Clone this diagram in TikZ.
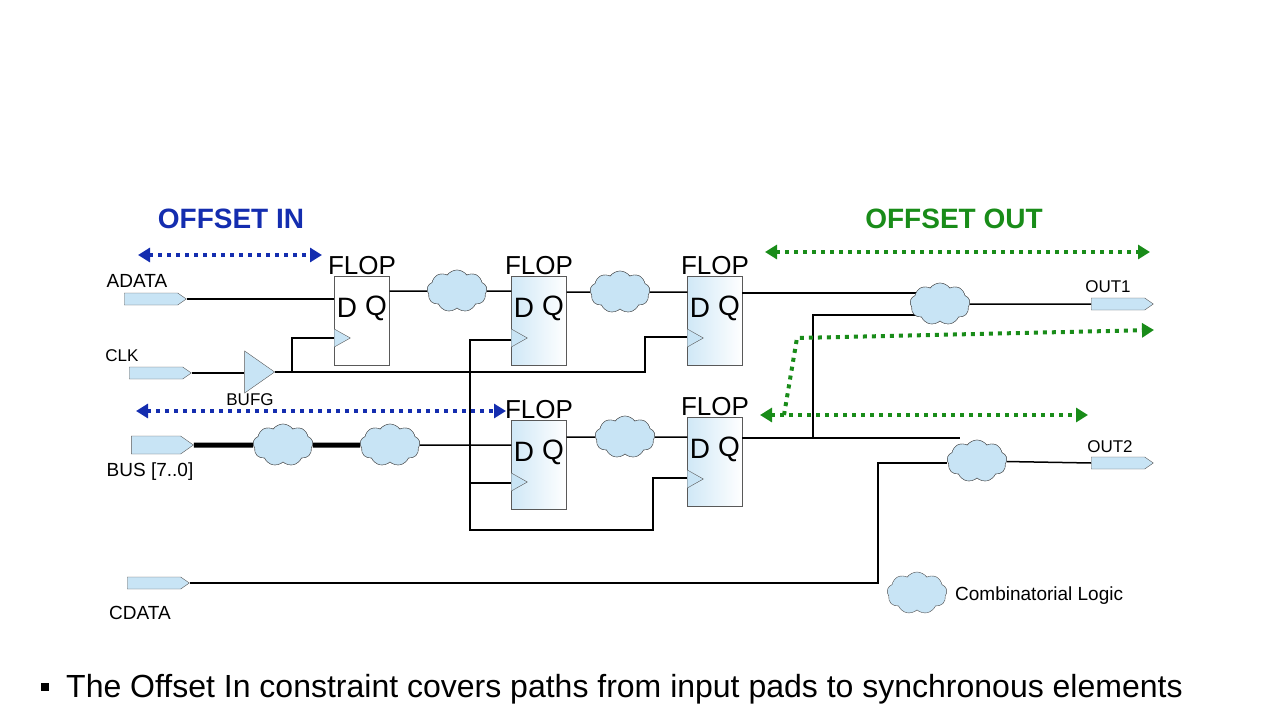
\documentclass[tikz,border=0pt]{standalone}
\usepackage{fontspec}
\setmainfont{Liberation Sans}
\usetikzlibrary{shapes.symbols,shapes.geometric,arrows.meta}
\definecolor{cloudblue}{RGB}{200,228,245}
\definecolor{offin}{RGB}{20,45,175}
\definecolor{offout}{RGB}{25,140,25}
\newcommand\fs[1]{\fontsize{#1}{#1}\selectfont}
\tikzset{
  pad/.style={signal, signal to=east, signal pointer angle=70, draw=gray!70!black, fill=cloudblue, minimum width=62pt, minimum height=12pt, inner sep=0pt},
  blob/.style={cloud, cloud puffs=9, cloud puff arc=110, aspect=1.5, draw=gray!60!black, fill=cloudblue, minimum width=60pt, minimum height=42pt, inner sep=0pt},
  flop/.style={rectangle, draw=gray!70!black, minimum width=55pt, minimum height=89pt, inner sep=0pt, label={[font=\fs{26}, inner sep=1pt]above:FLOP}},
  shaded flop/.style={flop, left color=cloudblue!85, right color=white},
  lbl/.style={font=\fs{17}, inner sep=0pt},
  offset/.style={line width=4pt, dash pattern=on 4pt off 5pt, draw=#1, >={Triangle[length=12pt,width=14pt]}},
  wire/.style={line width=1.5pt}
}
\begin{document}
\begin{tikzpicture}[x=1pt,y=-1pt]
\useasboundingbox (0,0) rectangle (1280,720);
% headings
\node[font=\bfseries\fs{28}, text=offin] (tin) at (231,219) {OFFSET IN};
\node[font=\bfseries\fs{28}, text=offout] (tout) at (954,219) {OFFSET OUT};
% pads
\node[pad] (adata) at (151,299) {};
\node[pad] (clk) at (156,373) {};
\node[pad, minimum height=18pt] (bus) at (156,445) {};
\node[pad] (cdata) at (154,583) {};
\node[pad] (out1) at (1118,304) {};
\node[pad] (out2) at (1118,463) {};
\node[lbl, font=\fs{19}] at (137,281) {ADATA};
\node[lbl] at (122,356) {CLK};
\node[lbl, font=\fs{19}] at (150,472) {BUS [7..0]};
\node[lbl, font=\fs{19}] at (140,613) {CDATA};
\node[lbl] at (1108,287) {OUT1};
\node[lbl] at (1110,447) {OUT2};
% clock buffer
\node[isosceles triangle, isosceles triangle apex angle=70, draw=gray!70!black, fill=cloudblue, minimum height=30pt, inner sep=0pt, anchor=apex] (bufg) at (275,372) {};
\node[lbl] at (250,400) {BUFG};
% flip-flops
\node[flop] (f1) at (362,321) {};
\node[shaded flop] (f2) at (539,321) {};
\node[shaded flop] (f3) at (715,321) {};
\node[shaded flop] (f4) at (539,465) {};
\node[shaded flop] (f5) at (715,462) {};
\foreach \f in {f1,f2,f3,f4,f5}{
  \node[font=\fs{28}, inner sep=0pt] at ([xshift=-15pt,yshift=13pt]\f.center) {D};
  \node[font=\fs{28}, inner sep=0pt] at ([xshift=14pt,yshift=13pt]\f.center) {Q};
  \draw[gray!70!black, fill=cloudblue] ([yshift=-8pt]\f.west) -- ([xshift=16pt,yshift=-17pt]\f.west) -- ([yshift=-26pt]\f.west);
}
% combinatorial logic
\node[blob] (c1) at (457,291) {};
\node[blob] (c2) at (620,292) {};
\node[blob] (c3) at (283,445) {};
\node[blob] (c4) at (390,445) {};
\node[blob] (c5) at (625,437) {};
\node[blob] (c6) at (940,304) {};
\node[blob] (c7) at (977,461) {};
\node[blob] (legend) at (917,593) {};
\node[font=\fs{19}, anchor=west, inner sep=0pt] at (955,596) {Combinatorial Logic};
% data paths
\draw[wire] (adata.east) -- (adata.east -| f1.west);
\draw[wire] (f1.east |- c1) -- (c1) -- (c1 -| f2.west);
\draw[wire] (f2.east |- c2) -- (c2) -- (c2 -| f3.west);
\draw[wire] (742,293) -- (925,293);
\draw[wire] (813,438) -- (813,315) -- (925,315);
\draw[wire] (c6) -- (out1.west);
\draw[line width=5pt] (bus.east) -- (c3) -- (c4);
\draw[wire] (c4.east) -- (c4 -| f4.west);
\draw[wire] (f4.east |- c5) -- (c5) -- (c5 -| f5.west);
\draw[wire] (742,438) -- (960,438);
\draw[wire] (cdata.east) -- (878,583) -- (878,463) -- (c7.west |- out2);
\draw[wire] (c7) -- (out2.west);
% clock tree
\draw[wire] (clk.east) -- (bufg.west |- clk);
\draw[wire] (bufg.apex) -- (645,372) -- (645,337) -- (f3.west |- 0,337);
\draw[wire] (292,372) -- (292,338) -- (f1.west |- 0,338);
\draw[wire] (f2.west |- 0,340) -- (470,340) -- (470,530) -- (653,530) -- (653,478) -- (f5.west |- 0,478);
\draw[wire] (470,483) -- (f4.west |- 0,483);
% clouds again, over the wires
\foreach \c in {c1,c2,c3,c4,c5,c6,c7}{
  \node[blob] at (\c) {};
}
% offset arrows
\coordinate (inA) at (138,255); \coordinate (inB) at (322,255);
\coordinate (inC) at (136,411); \coordinate (inD) at (506,411);
\draw[offset=offin, <->] (inA) -- (inB);
\draw[offset=offin, <->] (inC) -- (inD);
\coordinate (outA) at (765,252); \coordinate (outB) at (1150,252);
\coordinate (outC) at (760,415); \coordinate (outD) at (1088,415);
\draw[offset=offout, <->] (outA) -- (outB);
\draw[offset=offout, <->] (outC) -- (outD);
\draw[offset=offout, ->] (784,415) -- (797,338) -- (1154,330);
% bullet
\fill (41,683) rectangle (49,691);
\node[font=\fs{32}, anchor=west, inner sep=0pt] (bullet) at (66,689) {The Offset In constraint covers paths from input pads to synchronous elements};
\end{tikzpicture}
\end{document}
